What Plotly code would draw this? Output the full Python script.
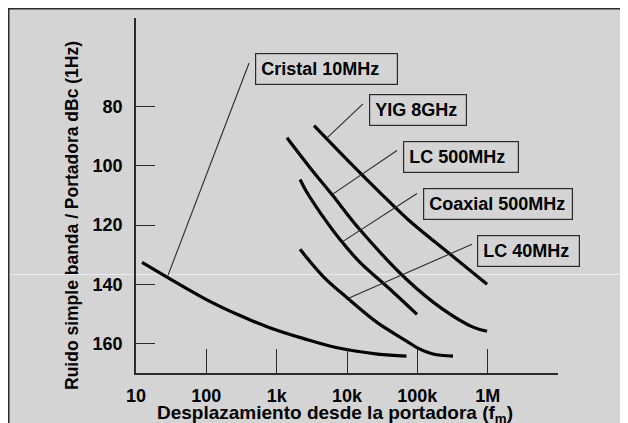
import plotly.graph_objects as go

# ---------------- data ----------------
series_names = ["Cristal 10MHz", "YIG 8GHz", "LC 500MHz", "Coaxial 500MHz", "LC 40MHz"]

cristal_f = [12.2, 98.9, 264, 778, 2370, 6980, 27000, 70000]
cristal_v = [132.6, 145.1, 150.0, 154.6, 158.3, 161.4, 163.6, 164.3]

yig_f = [3400, 11000, 29400, 73600, 291000, 980000]
yig_v = [86.4, 98.9, 109.0, 118.1, 129.8, 140.0]

lc500_f = [1400, 2980, 6120, 15300, 70600, 232000, 619000, 980000]
lc500_v = [90.5, 100.6, 109.7, 121.6, 138.4, 148.5, 154.5, 155.9]

coax_f = [2150, 2700, 4130, 7960, 15300, 40900, 98900]
coax_v = [104.6, 109.0, 115.7, 124.9, 132.6, 141.7, 150.2]

lc40_f = [2150, 4560, 10300, 26700, 71300, 102000, 167000, 321000]
lc40_v = [128.2, 137.3, 144.8, 152.9, 159.3, 161.6, 163.6, 164.3]

x_tickvals = [10, 100, 1000, 10000, 100000, 1000000]
x_ticktext = ["10", "100", "1k", "10k", "100k", "1M"]
y_tickvals = [80, 100, 120, 140, 160]

x_title = "Desplazamiento desde la portadora (f<sub>m</sub>)"
y_title = "Ruido simple banda / Portadora dBc (1Hz)"

# leader lines: (start f, start v) -> (end f on curve, end v)
leader_start_f = [405, 16900, 51400, 98900, 598000]
leader_start_v = [65.2, 79.0, 94.8, 109.3, 126.5]
leader_end_f = [28.5, 5200, 6120, 8770, 10300]
leader_end_v = [137.0, 90.5, 109.7, 125.5, 144.8]

curves_f = [cristal_f, yig_f, lc500_f, coax_f, lc40_f]
curves_v = [cristal_v, yig_v, lc500_v, coax_v, lc40_v]

# ---------------- figure ----------------
BG = "#d4d4d4"
INK = "#2b2b2b"
FONT = "Liberation Sans, Arial, sans-serif"

# page has an 8px body margin; figure coordinates = page - 8
OFF = 8
W, H = 628 - OFF, 423 - OFF
L, R, T, B = 136 - OFF, 628 - 558, 18 - OFF, 423 - 373
pw, ph = W - L - R, H - T - B


def px_x(p):  # page pixel -> paper x
    return (p - OFF - L) / pw


def px_y(p):  # page pixel -> paper y
    return (H + OFF - B - p) / ph


fig = go.Figure()

for f, v in zip(curves_f, curves_v):
    fig.add_trace(go.Scatter(x=f, y=v, mode="lines",
                             line=dict(color="black", width=3.2, shape="spline", smoothing=1.0),
                             hoverinfo="skip", showlegend=False))

for sf, sv, ef, ev in zip(leader_start_f, leader_start_v, leader_end_f, leader_end_v):
    fig.add_trace(go.Scatter(x=[sf, ef], y=[sv, ev], mode="lines",
                             line=dict(color=INK, width=1.1),
                             hoverinfo="skip", showlegend=False))

# label boxes (left x in log10, top y in data units, box width px)
box_specs = [(2.692, 61.8, 149), (4.313, 75.6, 104), (4.796, 91.5, 122),
             (5.081, 107.3, 156), (5.849, 123.2, 109)]
for name, (bx, by, bw) in zip(series_names, box_specs):
    fig.add_annotation(x=bx, y=by, xref="x", yref="y", xanchor="left", yanchor="top",
                       text=name, showarrow=False, align="left",
                       width=bw - 2 * 8 - 2, borderpad=5, bordercolor=INK, borderwidth=1.2,
                       bgcolor=BG,
                       font=dict(family=FONT, size=18, color="black", weight="bold"))

# axis titles
fig.add_annotation(x=px_x(72), y=px_y(216), xref="paper", yref="paper",
                   text=y_title, textangle=-90, showarrow=False,
                   xanchor="center", yanchor="middle",
                   font=dict(family=FONT, size=17.5, color="black", weight="bold"))
fig.add_annotation(x=px_x(335), y=px_y(414), xref="paper", yref="paper",
                   text=x_title, showarrow=False,
                   xanchor="center", yanchor="middle",
                   font=dict(family=FONT, size=19, color="black", weight="bold"))

# frame border (top and left) and faint scan line
fig.add_shape(type="line", xref="paper", yref="paper",
              x0=px_x(OFF + 0.75), x1=px_x(OFF + 0.75), y0=px_y(OFF), y1=px_y(430),
              line=dict(color=INK, width=1.5), layer="below")
fig.add_shape(type="line", xref="paper", yref="paper",
              x0=px_x(OFF), x1=px_x(640), y0=px_y(OFF + 0.75), y1=px_y(OFF + 0.75),
              line=dict(color=INK, width=1.5), layer="below")
fig.add_shape(type="line", xref="paper", yref="paper",
              x0=px_x(OFF + 2), x1=px_x(640), y0=px_y(274.5), y1=px_y(274.5),
              line=dict(color="#ececec", width=1), layer="below")

fig.update_layout(
    width=W, height=H,
    margin=dict(l=L, r=R, t=T, b=B, autoexpand=False),
    paper_bgcolor=BG,
    plot_bgcolor=BG,
    font=dict(family=FONT, color="black"),
    showlegend=False,
)

fig.update_xaxes(type="log", range=[1, 7], showgrid=False, zeroline=False,
                 showline=True, linecolor=INK, linewidth=1.5,
                 ticks="inside", ticklen=24, tickwidth=1.3, tickcolor=INK,
                 tickvals=x_tickvals, ticktext=x_ticktext, ticklabelstandoff=6,
                 tickfont=dict(family=FONT, size=18, color="black", weight="bold"))

fig.update_yaxes(range=[170, 50], showgrid=False, zeroline=False,
                 showline=True, linecolor=INK, linewidth=1.5,
                 ticks="inside", ticklen=19, tickwidth=1.3, tickcolor=INK,
                 tickvals=y_tickvals, ticklabelstandoff=8,
                 tickfont=dict(family=FONT, size=18, color="black", weight="bold"))

fig.write_html("out.html")
